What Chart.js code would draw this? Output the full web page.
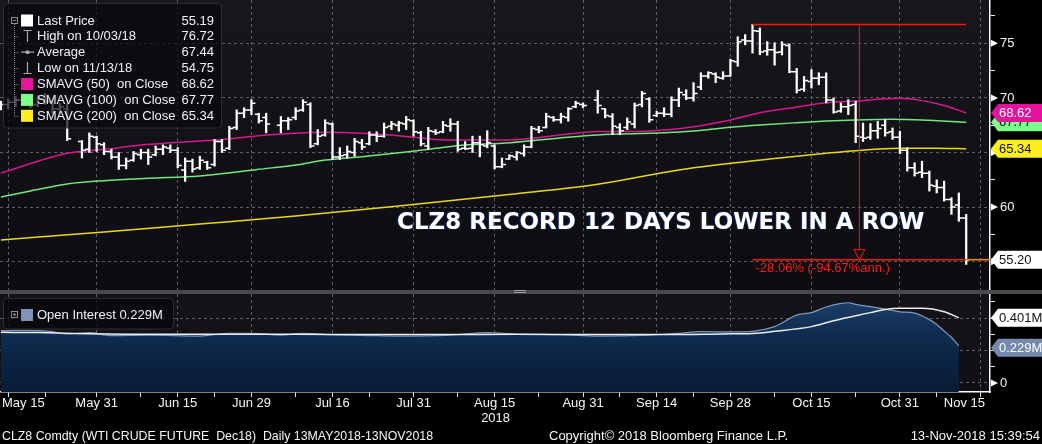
<!DOCTYPE html>
<html lang="en">
<head>
<meta charset="utf-8">
<title>CLZ8 Comdty</title>
<script src="https://cdn.jsdelivr.net/npm/chart.js@4.4.1/dist/chart.umd.min.js"></script>
<style>
  html, body { margin: 0; padding: 0; background: #000; }
  body { position: relative; width: 1042px; height: 444px; overflow: hidden; }
  #priceChart { position: absolute; left: 0; top: 0; }
  #separator { position: absolute; left: 0; top: 290px; width: 1042px; height: 4px; background: #4a4a4c; }
  #separator span { position: absolute; left: 514px; top: 0; width: 12px; height: 1px; border-top: 1px solid #9a9a9a; border-bottom: 1px solid #9a9a9a; }
  #oiChart { position: absolute; left: 0; top: 294px; }
</style>
</head>
<body>
<canvas id="priceChart" width="1042" height="290"></canvas>
<div id="separator"><span></span></div>
<canvas id="oiChart" width="1042" height="150"></canvas>
<script>
// one slot per weekday, slot 0 = Mon 14 May 2018 (holidays left empty)
const tickLabels = ['May 15', 'May 31', 'Jun 15', 'Jun 29', 'Jul 16', 'Jul 31', 'Aug 15', 'Aug 31', 'Sep 14', 'Sep 28', 'Oct 15', 'Oct 31', 'Nov 15'];
const tickSlots = [1, 13, 24, 34, 45, 56, 67, 79, 89, 99, 110, 122, 133];
const minorSlots = [6, 19, 29, 40, 50, 62, 73, 84, 94, 105, 116, 127];
const yearLabel = '2018';

const opens = [69.2, 69.4, 69.6, 69.8, 69.6, 69.4, 69.9, 69.6, 69.0, 69.0, null, 66.0, 65.3, 66.4, 65.7, 65.1, 64.6, 63.8, 64.3, 64.8,
  65.0, 64.8, 65.3, 65.4, 65.2, 63.4, 64.2, 63.6, 64.1, 63.9, 66.0, 65.4, 67.3, 68.6, 68.9, 68.5, 68.2, null, 67.5, 67.9,
  68.2, 68.9, 69.4, 65.8, 66.6, 67.6, 64.6, 64.8, 65.0, 65.9, 65.8, 66.6, 66.5, 67.4, 67.5, 67.6, 67.9, 66.8, 65.6, 66.9,
  66.9, 67.4, 67.6, 65.4, 65.4, 65.9, 65.6, 65.6, 63.7, 64.4, 64.6, 64.9, 65.5, 67.1, 67.3, 68.2, 68.0, 68.2, 69.2, 69.4,
  null, 69.8, 69.0, 68.3, 67.3, 67.3, 67.6, 69.4, 69.9, 68.4, 68.6, 68.5, 69.8, 70.3, 70.0, 71.0, 72.0, 72.2, 71.8, 72.0,
  73.3, 75.3, 75.2, 76.1, 74.3, 74.4, 74.2, 74.8, 72.4, 70.8, 71.5, 71.8, 71.9, 69.8, 68.8, 69.2, 69.4, 66.4, 66.4, 67.0,
  67.5, 66.9, 66.4, 65.2, 63.6, 63.2, 63.1, 61.9, 61.8, 60.7, 60.2, 59.0];
const highs = [69.7, 69.9, 70.1, 70.3, 70.0, 70.2, 70.4, 69.8, 69.5, 69.5, null, 66.1, 66.8, 66.5, 65.9, 65.3, 65.0, 64.5, 65.1, 65.3,
  65.3, 65.6, 65.7, 65.7, 65.45, 64.5, 64.4, 64.66, 64.2, 66.2, 66.2, 67.4, 68.9, 69.1, 69.84, 68.6, 68.6, null, 68.3, 68.2,
  69.1, 69.84, 69.55, 67.1, 68.0, 67.7, 65.45, 65.6, 66.3, 66.2, 66.9, 66.9, 67.7, 67.86, 67.86, 68.3, 68.0, 66.95, 67.3, 67.1,
  67.86, 68.1, 67.86, 66.0, 66.5, 66.5, 67.0, 65.7, 64.5, 64.8, 65.1, 65.7, 67.4, 67.4, 68.6, 68.3, 68.6, 69.1, 69.7, 69.54,
  null, 70.7, 69.0, 68.56, 67.65, 68.17, 69.54, 70.6, 70.0, 68.77, 69.1, 70.1, 70.9, 70.75, 71.4, 72.3, 72.4, 72.3, 72.4, 73.55,
  75.6, 75.8, 76.72, 76.4, 75.15, 75.05, 75.15, 74.95, 72.7, 71.97, 72.6, 72.3, 72.3, 70.0, 69.54, 69.84, 69.7, 67.7, 67.65, 67.86,
  68.0, 67.25, 66.95, 65.43, 64.06, 64.2, 63.3, 62.5, 62.38, 60.86, 61.3, 59.34];
const lows = [68.9, 69.0, 69.2, 69.4, 69.1, 69.2, 69.4, 68.6, 68.5, 66.1, null, 64.5, 65.0, 65.1, 64.8, 64.4, 63.45, 63.5, 64.2, 64.4,
  63.9, 64.7, 64.8, 65.0, 63.6, 62.35, 63.2, 63.45, 63.45, 63.75, 65.0, 65.27, 67.1, 68.2, 68.47, 67.7, 66.8, null, 66.8, 67.1,
  68.0, 68.77, 65.45, 65.7, 66.5, 64.36, 64.36, 64.5, 64.66, 65.27, 65.7, 66.0, 66.4, 67.1, 66.95, 67.1, 66.5, 65.6, 65.27, 66.64,
  66.8, 66.95, 65.1, 65.27, 65.0, 64.6, 65.43, 63.5, 63.6, 64.36, 64.3, 64.66, 65.43, 66.8, 67.25, 67.86, 67.7, 67.86, 69.1, 69.1,
  null, 68.6, 68.17, 66.64, 66.64, 67.1, 67.25, 69.17, 67.77, 68.3, 68.3, 68.26, 69.2, 69.84, 69.7, 70.75, 71.8, 71.4, 71.7, 71.97,
  72.9, 74.86, 74.1, 73.95, 73.9, 73.0, 73.93, 72.3, 70.45, 70.6, 70.9, 71.2, 69.54, 68.6, 68.68, 68.47, 65.9, 66.0, 66.2, 66.3,
  66.5, 66.2, 64.9, 63.3, 62.84, 62.7, 61.47, 61.3, 60.55, 59.34, 58.7, 54.75];
const closes = [69.4, 69.6, 69.8, 69.6, 69.3, 69.9, 69.7, 69.0, 69.2, 66.25, null, 65.2, 66.5, 65.8, 65.1, 64.6, 63.8, 64.2, 64.9, 65.0,
  64.6, 65.3, 65.5, 65.2, 63.8, 64.2, 63.5, 64.3, 63.6, 66.0, 65.2, 67.2, 68.6, 68.9, 69.5, 67.9, 67.6, null, 67.9, 68.0,
  68.8, 69.6, 65.6, 66.5, 67.7, 64.6, 64.7, 65.1, 66.0, 65.5, 66.6, 66.5, 67.3, 67.6, 67.7, 68.0, 66.9, 65.8, 67.0, 66.8,
  67.5, 67.6, 65.3, 65.35, 65.9, 65.7, 65.9, 63.7, 63.9, 64.7, 65.0, 65.5, 67.2, 67.0, 68.3, 68.0, 68.3, 69.0, 69.5, 69.3,
  null, 69.3, 68.4, 67.4, 67.0, 67.8, 69.3, 70.4, 68.0, 68.6, 68.5, 69.8, 70.5, 70.0, 70.4, 72.0, 72.3, 71.9, 72.0, 73.4,
  75.15, 75.2, 76.15, 74.2, 74.4, 74.15, 74.9, 72.4, 70.7, 71.6, 71.8, 71.9, 69.8, 68.7, 69.2, 69.3, 66.5, 66.3, 67.0, 67.2,
  66.8, 66.4, 65.2, 63.6, 63.1, 63.1, 62.0, 61.8, 60.7, 60.0, 59.0, 55.19];

// [slot, value]
const sma50 = [[0, 63.12], [9, 64.93], [14, 65.29], [20, 65.75], [27, 66.05], [31, 66.24], [35, 66.54], [40, 66.76], [44, 66.85],
  [49, 66.76], [55, 66.47], [59, 66.2], [63, 66.14], [68, 66.14], [72, 66.3], [77, 66.69], [81, 66.92], [85, 66.92], [90, 67.06],
  [94, 67.36], [99, 67.98], [103, 68.64], [108, 69.17], [112, 69.56], [116, 69.72], [122, 69.96], [125, 69.75], [128, 69.3], [131, 68.62]];
const sma100 = [[0, 60.92], [4, 61.47], [9, 62.12], [14, 62.42], [20, 62.64], [27, 62.85], [35, 63.46], [40, 63.86], [44, 64.31],
  [49, 64.62], [55, 65.05], [59, 65.38], [63, 65.69], [68, 65.84], [72, 66.08], [77, 66.4], [81, 66.6], [90, 66.8], [94, 66.97],
  [99, 67.31], [103, 67.52], [108, 67.73], [112, 67.88], [116, 67.98], [121, 68.04], [125, 67.98], [131, 67.77]];
const sma200 = [[0, 56.99], [14, 57.72], [27, 58.45], [40, 59.18], [54, 60.1], [67, 61.02], [81, 62.1], [92, 63.4], [105, 64.45],
  [112, 64.93], [116, 65.17], [122, 65.38], [127, 65.38], [131, 65.34]];

// open interest, millions of contracts
const openInterest = [[0, 0.322], [3, 0.324], [7, 0.316], [9, 0.302], [12, 0.31], [15, 0.292], [20, 0.295], [27, 0.289], [31, 0.306],
  [34, 0.306], [38, 0.295], [41, 0.306], [45, 0.297], [50, 0.292], [54, 0.289], [61, 0.295], [66, 0.31], [70, 0.30], [76, 0.298],
  [81, 0.289], [88, 0.295], [92, 0.305], [95, 0.316], [99, 0.314], [102, 0.318], [105, 0.347], [108, 0.418], [110, 0.433], [112, 0.468],
  [114, 0.49], [115, 0.494], [116, 0.484], [118, 0.47], [120, 0.455], [122, 0.438], [124, 0.43], [126, 0.39], [127, 0.36], [128, 0.32],
  [129, 0.28], [130, 0.229]];
const openInterestAvg = [[0, 0.312], [5, 0.31], [10, 0.305], [20, 0.30], [30, 0.30], [40, 0.30], [50, 0.298], [60, 0.298], [70, 0.30],
  [80, 0.298], [90, 0.298], [98, 0.302], [102, 0.305], [105, 0.318], [110, 0.347], [113, 0.383], [118, 0.433], [120, 0.453], [122, 0.46],
  [125, 0.46], [128, 0.439], [130, 0.401]];

const priceTicks = [55, 57.5, 60, 62.5, 65, 67.5, 70, 72.5, 75, 77.5];
const priceLabels = [55, 60, 65, 70, 75];
const oiTicks = [0, 0.1, 0.2, 0.3, 0.4, 0.5];

const legendNames = ['Last Price', 'High on 10/03/18', 'Average', 'Low on 11/13/18', 'SMAVG (50)  on Close', 'SMAVG (100)  on Close', 'SMAVG (200)  on Close'];
const legendValues = ['55.19', '76.72', '67.44', '54.75', '68.62', '67.77', '65.34'];
const highSlot = 102;
const lastSlot = 131;

const FONT = '"Liberation Sans", Arial, sans-serif';
const SLOT_MIN = -0.12, SLOT_MAX = 134.23;
const GRID = '#5e5e62';

Chart.defaults.font.family = FONT;

const toXY = pts => pts.map(p => ({x: p[0], y: p[1]}));
const majorOr = (cond, a, b) => (cond ? a : b);

function roundRect(ctx, x, y, w, h, r) {
    ctx.beginPath();
    ctx.moveTo(x + r, y);
    ctx.arcTo(x + w, y, x + w, y + h, r);
    ctx.arcTo(x + w, y + h, x, y + h, r);
    ctx.arcTo(x, y + h, x, y, r);
    ctx.arcTo(x, y, x + w, y, r);
    ctx.closePath();
}

const plotBackground = {
    id: 'plotBackground',
    beforeDraw(chart, args, opts) {
        const {ctx, chartArea: a} = chart;
        const g = ctx.createLinearGradient(0, a.top, 0, a.bottom);
        g.addColorStop(0, opts.top);
        g.addColorStop(1, opts.bottom);
        ctx.save();
        ctx.fillStyle = g;
        ctx.fillRect(a.left, a.top, a.right - a.left, a.bottom - a.top);
        ctx.restore();
    }
};

// arrows + numbers on the labelled axis ticks, then the last-value tags
const axisMarkers = {
    id: 'axisMarkers',
    afterDraw(chart, args, opts) {
        const {ctx, chartArea: a, scales: {y}} = chart;
        ctx.save();
        ctx.font = '13px ' + FONT;
        ctx.textBaseline = 'middle';
        ctx.textAlign = 'left';
        opts.labels.forEach(l => {
            const py = y.getPixelForValue(l.value);
            ctx.fillStyle = '#ffffff';
            ctx.beginPath();
            ctx.moveTo(a.right + 1, py - 3.5);
            ctx.lineTo(a.right + 8, py);
            ctx.lineTo(a.right + 1, py + 3.5);
            ctx.closePath();
            ctx.fill();
            ctx.fillStyle = '#eef2f8';
            ctx.fillText(l.text, a.right + 10, py + 0.5);
        });
        opts.tags.forEach(t => {
            const py = y.getPixelForValue(t.value) + (t.dy || 0);
            const x0 = a.right + 1, h = 18;
            ctx.beginPath();
            ctx.moveTo(x0, py);
            ctx.lineTo(x0 + 7, py - h / 2);
            ctx.lineTo(chart.width, py - h / 2);
            ctx.lineTo(chart.width, py + h / 2);
            ctx.lineTo(x0 + 7, py + h / 2);
            ctx.closePath();
            ctx.fillStyle = t.bg;
            ctx.fill();
            ctx.fillStyle = t.fg;
            ctx.fillText(t.text, x0 + 8, py + 0.5);
        });
        ctx.restore();
    }
};

const ohlcTicks = {
    id: 'ohlcTicks',
    afterDatasetsDraw(chart) {
        const {ctx, scales: {x, y}} = chart;
        ctx.save();
        ctx.strokeStyle = '#ffffff';
        ctx.lineWidth = 1.5;
        ctx.beginPath();
        for (let i = 0; i < closes.length; i++) {
            if (opens[i] == null) continue;
            const px = x.getPixelForValue(i);
            const yo = y.getPixelForValue(opens[i]);
            const yc = y.getPixelForValue(closes[i]);
            ctx.moveTo(px - 4, yo); ctx.lineTo(px, yo);
            ctx.moveTo(px, yc); ctx.lineTo(px + 4, yc);
        }
        ctx.stroke();
        ctx.restore();
    }
};

const priceAnnotations = {
    id: 'priceAnnotations',
    afterDatasetsDraw(chart) {
        const {ctx, chartArea: a, scales: {x, y}} = chart;
        const x1 = x.getPixelForValue(highSlot);
        const x2 = x.getPixelForValue(lastSlot);
        const yHi = y.getPixelForValue(highs[highSlot]);
        const yLo = y.getPixelForValue(closes[lastSlot]);
        const xm = (x1 + x2) / 2;
        ctx.save();
        ctx.lineWidth = 1.5;
        ctx.strokeStyle = '#ff1414';
        ctx.beginPath();
        ctx.moveTo(x1, yHi); ctx.lineTo(x2, yHi);
        ctx.moveTo(x1, yLo); ctx.lineTo(x2, yLo);
        ctx.stroke();
        ctx.strokeStyle = '#ff8c00';
        ctx.beginPath();
        ctx.moveTo(x2, yLo); ctx.lineTo(a.right, yLo);
        ctx.stroke();
        ctx.strokeStyle = '#ff1414';
        ctx.lineWidth = 1;
        ctx.beginPath();
        ctx.moveTo(xm, yHi); ctx.lineTo(xm, yLo - 10);
        ctx.moveTo(xm - 5.5, yLo - 10); ctx.lineTo(xm + 5.5, yLo - 10); ctx.lineTo(xm, yLo); ctx.closePath();
        ctx.stroke();

        const change = (closes[lastSlot] - highs[highSlot]) / highs[highSlot] * 100;
        ctx.fillStyle = '#ff1a1a';
        ctx.font = '13px ' + FONT;
        ctx.textBaseline = 'middle';
        ctx.fillText(change.toFixed(2) + '% (-94.67%ann.)', x1 + 3, yLo + 8.5);

        ctx.font = 'bold 23px "DejaVu Sans", sans-serif';
        ctx.textBaseline = 'alphabetic';
        ctx.shadowColor = 'rgba(30, 80, 210, 0.9)';
        ctx.shadowBlur = 1.5;
        ctx.shadowOffsetX = -0.5;
        ctx.fillStyle = '#ffffff';
        ctx.fillText('CLZ8 RECORD 12 DAYS LOWER IN A ROW', 397, 228.5, 532);
        ctx.restore();
    }
};

const priceLegend = {
    id: 'priceLegend',
    afterDraw(chart) {
        const ctx = chart.ctx;
        const rows = [20.5, 36.3, 52.2, 68.1, 84, 99.9, 115.8];
        const swatch = ['#ffffff', null, null, null, '#e8149c', '#7dff8c', '#ffee1f'];
        ctx.save();
        roundRect(ctx, 3.5, 3.5, 218, 124.5, 4);
        ctx.fillStyle = 'rgba(9, 9, 13, 0.72)';
        ctx.fill();
        ctx.strokeStyle = '#2d2d33';
        ctx.lineWidth = 1;
        ctx.stroke();

        // tree
        ctx.strokeStyle = '#8c8c8c';
        ctx.strokeRect(11.5, 17.5, 6, 6);
        ctx.beginPath();
        ctx.moveTo(13, 20.5); ctx.lineTo(16, 20.5);
        ctx.stroke();
        ctx.setLineDash([1, 1]);
        ctx.beginPath();
        ctx.moveTo(14.5, 24); ctx.lineTo(14.5, rows[6]);
        for (let k = 1; k < rows.length; k++) { ctx.moveTo(14.5, rows[k] + 0.5); ctx.lineTo(19, rows[k] + 0.5); }
        ctx.stroke();
        ctx.setLineDash([]);

        // icons
        ctx.strokeStyle = '#a8a8a8';
        ctx.lineWidth = 1.2;
        ctx.beginPath();
        ctx.moveTo(23.5, 30.5); ctx.lineTo(31.5, 30.5); ctx.moveTo(27.5, 30.5); ctx.lineTo(27.5, 42);
        ctx.moveTo(21, rows[2]); ctx.lineTo(34, rows[2]);
        ctx.moveTo(27.5, 62); ctx.lineTo(27.5, 73.5); ctx.moveTo(23.5, 73.5); ctx.lineTo(31.5, 73.5);
        ctx.stroke();
        ctx.fillStyle = '#a8a8a8';
        ctx.beginPath(); ctx.arc(27.5, rows[2], 2, 0, Math.PI * 2); ctx.fill();
        swatch.forEach((c, k) => {
            if (!c) return;
            ctx.fillStyle = c;
            ctx.fillRect(21, rows[k] - 6, 12, 12);
        });

        ctx.font = '13px ' + FONT;
        ctx.textBaseline = 'middle';
        ctx.fillStyle = '#eef1f8';
        legendNames.forEach((t, k) => {
            ctx.textAlign = 'left';
            ctx.fillText(t, 37, rows[k] + 0.5);
            ctx.textAlign = 'right';
            ctx.fillText(legendValues[k], 214, rows[k] + 0.5);
        });
        ctx.restore();
    }
};

const oiDecor = {
    id: 'oiDecor',
    afterDraw(chart) {
        const {ctx, chartArea: a, scales: {x}} = chart;
        ctx.save();
        // legend
        roundRect(ctx, 3.5, 4.5, 170, 30.5, 4);
        ctx.fillStyle = 'rgba(9, 9, 13, 0.8)';
        ctx.fill();
        ctx.strokeStyle = '#2d2d33';
        ctx.lineWidth = 1;
        ctx.stroke();
        ctx.strokeStyle = '#8c8c8c';
        ctx.strokeRect(11.5, 17.5, 6, 6);
        ctx.beginPath();
        ctx.moveTo(13, 20.5); ctx.lineTo(16, 20.5); ctx.moveTo(14.5, 19); ctx.lineTo(14.5, 22);
        ctx.stroke();
        ctx.fillStyle = '#7f94b8';
        ctx.fillRect(21, 15, 12, 12);
        ctx.font = '13px ' + FONT;
        ctx.textBaseline = 'middle';
        ctx.fillStyle = '#eef1f8';
        ctx.fillText('Open Interest 0.229M', 37, 21.5);

        // date labels
        ctx.fillStyle = '#f4f6fa';
        ctx.textAlign = 'center';
        tickLabels.forEach((t, k) => {
            const w = ctx.measureText(t).width;
            let px = x.getPixelForValue(tickSlots[k]);
            px = Math.max(px, a.left + w / 2 + 2);
            px = Math.min(px, a.right - w / 2 - 5);
            ctx.fillText(t, px, a.bottom + 11);
            if (t === 'Aug 15') ctx.fillText(yearLabel, px + 1, a.bottom + 26);
        });

        // footer
        const fy = 142;
        ctx.textAlign = 'left';
        ctx.fillText('CLZ8 Comdty (WTI CRUDE FUTURE  Dec18)  Daily 13MAY2018-13NOV2018', 2, fy, 431);
        ctx.fillText('Copyright\u00a9 2018 Bloomberg Finance L.P.', 549, fy, 240);
        ctx.textAlign = 'right';
        ctx.fillText('13-Nov-2018 15:39:54', 1040, fy, 134);
        ctx.restore();
    }
};

function slotScale(withTicks) {
    const slots = withTicks ? tickSlots.concat(minorSlots).sort((p, q) => p - q) : tickSlots;
    return {
        type: 'linear',
        offset: false,
        min: SLOT_MIN,
        max: SLOT_MAX,
        afterBuildTicks: s => { s.ticks = slots.map(v => ({value: v})); },
        ticks: {display: false},
        grid: {
            offset: false,
            color: c => majorOr(c.tick && tickSlots.includes(c.tick.value), GRID, 'rgba(0,0,0,0)'),
            lineWidth: 1,
            drawTicks: withTicks,
            tickLength: 5,
            tickColor: '#e6e6e6'
        },
        border: {display: withTicks, color: '#ffffff', width: 1.5, dash: [3, 3]}
    };
}

function valueScale(min, max, ticks, isMajor) {
    return {
        position: 'right',
        min: min,
        max: max,
        afterBuildTicks: s => { s.ticks = ticks.map(v => ({value: v})); },
        afterFit: s => { s.width = 52; },
        ticks: {display: false},
        grid: {
            color: c => majorOr(c.tick && isMajor(c.tick.value), GRID, 'rgba(0,0,0,0)'),
            tickColor: '#e6e6e6',
            tickLength: 5
        },
        border: {color: '#ffffff', width: 1.5, dash: [3, 3]}
    };
}

document.addEventListener('DOMContentLoaded', () => {
    const priceBars = [];
    highs.forEach((h, i) => {
        if (h != null) priceBars.push({x: i, y: [lows[i], h]});
    });

    new Chart(document.getElementById('priceChart'), {
        type: 'bar',
        data: {
            datasets: [
                {label: 'Last Price', data: priceBars, backgroundColor: '#ffffff', barThickness: 1.6, order: 0},
                {type: 'line', label: 'SMAVG (50)', data: toXY(sma50), borderColor: '#d6178f', borderWidth: 1.5,
                    pointRadius: 0, cubicInterpolationMode: 'monotone', order: 1},
                {type: 'line', label: 'SMAVG (100)', data: toXY(sma100), borderColor: '#72e680', borderWidth: 1.5,
                    pointRadius: 0, cubicInterpolationMode: 'monotone', order: 2},
                {type: 'line', label: 'SMAVG (200)', data: toXY(sma200), borderColor: '#e4da1c', borderWidth: 1.5,
                    pointRadius: 0, cubicInterpolationMode: 'monotone', order: 3}
            ]
        },
        options: {
            responsive: false,
            animation: false,
            events: [],
            layout: {padding: 0, autoPadding: false},
            scales: {
                x: slotScale(false),
                y: valueScale(52.41, 78.965, priceTicks, v => v % 5 === 0)
            },
            plugins: {
                legend: {display: false},
                tooltip: {enabled: false},
                plotBackground: {top: '#17171c', bottom: '#0c0c10'},
                axisMarkers: {
                    labels: priceLabels.map(v => ({value: v, text: String(v)})),
                    tags: [
                        {value: sma100[sma100.length - 1][1], bg: '#7dfc8b', fg: '#111111', text: legendValues[5]},
                        {value: sma50[sma50.length - 1][1], bg: '#e5139a', fg: '#ffffff', text: legendValues[4]},
                        {value: sma200[sma200.length - 1][1], bg: '#fdee1c', fg: '#111111', text: legendValues[6]},
                        {value: closes[lastSlot], bg: '#ffffff', fg: '#111111', text: '55.20'}
                    ]
                }
            }
        },
        plugins: [plotBackground, ohlcTicks, priceAnnotations, axisMarkers, priceLegend]
    });

    new Chart(document.getElementById('oiChart'), {
        type: 'line',
        data: {
            datasets: [
                {
                    label: 'Open Interest',
                    data: toXY(openInterest),
                    fill: 'start',
                    backgroundColor: c => {
                        const a = c.chart.chartArea;
                        if (!a) return '#0e2b4e';
                        const g = c.chart.ctx.createLinearGradient(0, a.top, 0, a.bottom);
                        g.addColorStop(0, '#1f426b');
                        g.addColorStop(0.4, '#0f2c50');
                        g.addColorStop(1, '#081b35');
                        return g;
                    },
                    borderColor: '#8197bb',
                    borderWidth: 1.2,
                    pointRadius: 0,
                    cubicInterpolationMode: 'monotone',
                    order: 1
                },
                {
                    label: 'Open Interest avg',
                    data: toXY(openInterestAvg),
                    fill: false,
                    borderColor: '#ececec',
                    borderWidth: 1.5,
                    pointRadius: 0,
                    cubicInterpolationMode: 'monotone',
                    order: 0
                }
            ]
        },
        options: {
            responsive: false,
            animation: false,
            events: [],
            layout: {padding: {left: 0, right: 0, top: 0, bottom: 17}, autoPadding: false},
            scales: {
                x: Object.assign(slotScale(true), {z: 1, afterFit: s => { s.height = 35; }}),
                y: Object.assign(valueScale(-0.0554, 0.5477, oiTicks, v => Math.round(v * 10) % 2 === 0), {z: 1})
            },
            plugins: {
                legend: {display: false},
                tooltip: {enabled: false},
                plotBackground: {top: '#141418', bottom: '#101014'},
                axisMarkers: {
                    labels: [{value: 0, text: '0'}],
                    tags: [
                        {value: openInterestAvg[openInterestAvg.length - 1][1], bg: '#ffffff', fg: '#111111', text: '0.401M'},
                        {value: openInterest[openInterest.length - 1][1], bg: '#7489ab', fg: '#ffffff', text: '0.229M', dy: 2}
                    ]
                }
            }
        },
        plugins: [plotBackground, axisMarkers, oiDecor]
    });
});
</script>
</body>
</html>
